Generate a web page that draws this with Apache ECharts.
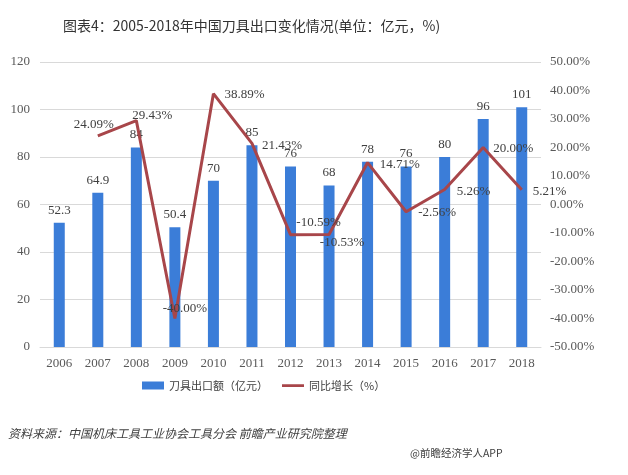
<!DOCTYPE html>
<html><head><meta charset="utf-8">
<script src="https://cdn.jsdelivr.net/npm/echarts@6/dist/echarts.min.js"></script>
<style>html,body{margin:0;padding:0;background:#fff;}#c{width:628px;height:475px;}</style>
</head><body><div id="c"></div>
<script>
const years = ['2006','2007','2008','2009','2010','2011','2012','2013','2014','2015','2016','2017','2018'];
const exportValue = [52.3, 64.9, 84, 50.4, 70, 85, 76, 68, 78, 76, 80, 96, 101];
const yoyGrowth = [null, 24.09, 29.43, -40.00, 38.89, 21.43, -10.59, -10.53, 14.71, -2.56, 5.26, 20.00, 5.21];
const leftTicks = [0, 20, 40, 60, 80, 100, 120];
const rightTicks = [-50, -40, -30, -20, -10, 0, 10, 20, 30, 40, 50];

// label placement style per point (styling only)
const lineLabelStyles = {
  '2007': {position: 'top', offset: [-4, 0]},
  '2008': {position: 'top', offset: [16, 7]},
  '2009': {position: 'top', offset: [10, 2]},
  '2010': {position: 'right', offset: [6, 1]},
  '2011': {position: 'right', offset: [5, 2]},
  '2012': {position: 'top', offset: [28, -1]},
  '2013': {position: 'bottom', offset: [13, -3]},
  '2014': {position: 'right', offset: [7, 2]},
  '2015': {position: 'right', offset: [7, 1]},
  '2016': {position: 'right', offset: [7, 2]},
  '2017': {position: 'right', offset: [5, 1]},
  '2018': {position: 'right', offset: [6, 2]}
};
const numFont = '"Liberation Serif", "DejaVu Serif", serif';
const chart = echarts.init(document.getElementById('c'));
chart.setOption({
  backgroundColor: '#fff',
  animation: false,
  title: {
    text: '图表4：2005-2018年中国刀具出口变化情况(单位：亿元，%)',
    left: 58, top: 14,
    textStyle: {fontSize: 14, fontWeight: 'normal', color: '#333', fontFamily: '"Noto Sans CJK SC", sans-serif'}
  },
  legend: {
    top: 375, left: 137,
    itemWidth: 22, itemHeight: 8, itemGap: 14,
    textStyle: {fontSize: 11, color: '#404040', fontFamily: '"Noto Sans CJK SC", sans-serif'},
    data: [{name: '刀具出口额（亿元）', icon: 'rect'},
           {name: '同比增长（%）', icon: 'path://M0,0h22v0.01h-22z M0,2.8h22v2.6h-22z M0,7.99h22v0.01h-22z'}]
  },
  grid: {left: 40, right: 87, top: 62, bottom: 128},
  xAxis: {
    type: 'category', data: years,
    axisLine: {lineStyle: {color: '#d9d9d9'}},
    axisTick: {show: false},
    axisLabel: {color: '#595959', fontSize: 13, fontFamily: numFont, margin: 10}
  },
  yAxis: [{
    type: 'value', min: 0, max: 120, interval: 20,
    axisLine: {show: false}, axisTick: {show: false},
    axisLabel: {color: '#595959', fontSize: 13, fontFamily: numFont, margin: 10},
    splitLine: {lineStyle: {color: '#d9d9d9'}}
  }, {
    type: 'value', min: -50, max: 50, interval: 10,
    axisLine: {show: false}, axisTick: {show: false},
    axisLabel: {color: '#595959', fontSize: 13, fontFamily: numFont, margin: 9,
      formatter: v => v.toFixed(2) + '%'},
    splitLine: {show: false}
  }],
  series: [{
    name: '刀具出口额（亿元）', type: 'bar', barWidth: 11,
    itemStyle: {color: '#3b7dd8'},
    label: {show: true, position: 'top', distance: 6, color: '#404040', fontSize: 13, fontFamily: numFont},
    data: exportValue
  }, {
    name: '同比增长（%）', type: 'line', yAxisIndex: 1,
    symbol: 'circle', symbolSize: 0.1, showSymbol: true,
    lineStyle: {color: '#a8464a', width: 3},
    itemStyle: {color: '#a8464a'},
    label: {show: true, color: '#404040', fontSize: 13, fontFamily: numFont,
      formatter: p => p.value == null ? '' : p.value.toFixed(2) + '%'},
    data: yoyGrowth.map((v, i) => {
      const s = lineLabelStyles[years[i]] || {};
      return {value: v, label: {position: s.position || 'top', offset: s.offset || [0, 0]}};
    })
  }],
  graphic: [{
    type: 'text', left: 8, top: 427,
    style: {text: '资料来源：中国机床工具工业协会工具分会 前瞻产业研究院整理', fill: '#404040',
      font: 'italic 12px "Noto Sans CJK SC", sans-serif'}
  }, {
    type: 'text', left: 410, top: 448,
    style: {text: '@前瞻经济学人APP', fill: '#404040', font: '10.5px "Noto Sans CJK SC", sans-serif'}
  }]
});
</script></body></html>
